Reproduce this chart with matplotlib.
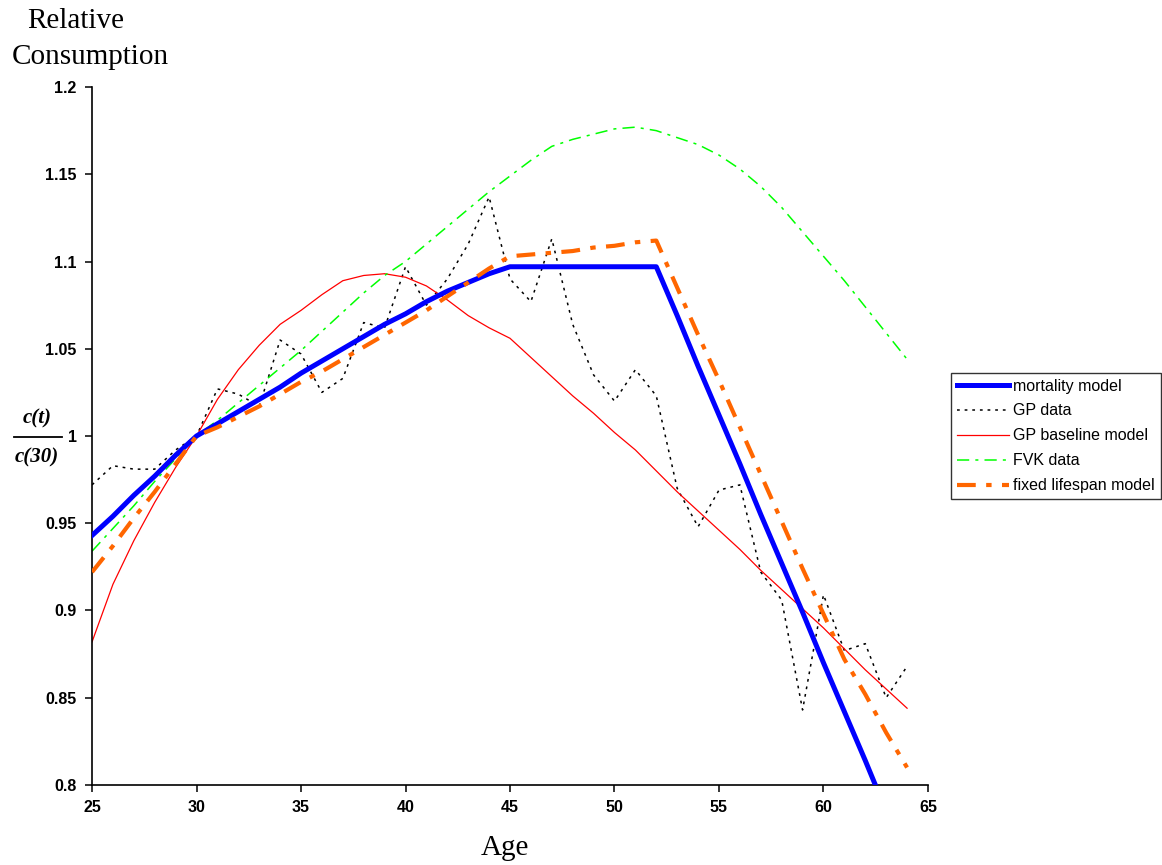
import numpy as np
import matplotlib
matplotlib.use('Agg')
from matplotlib import pyplot as plt
from matplotlib.ticker import FormatStrFormatter

# ages 25..64
ages = list(range(25, 65))

mortality_model = [0.943, 0.954, 0.966, 0.977, 0.989, 1.000, 1.007, 1.014, 1.021, 1.028,
                   1.036, 1.043, 1.050, 1.057, 1.064, 1.070, 1.077, 1.083, 1.088, 1.093,
                   1.097, 1.097, 1.097, 1.097, 1.097, 1.097, 1.097, 1.097, 1.069, 1.040,
                   1.012, 0.984, 0.955, 0.927, 0.899, 0.870, 0.842, 0.814, 0.785, 0.757]

gp_data = [0.972, 0.983, 0.981, 0.981, 0.992, 1.000, 1.027, 1.024, 1.017, 1.055,
           1.047, 1.025, 1.033, 1.065, 1.062, 1.097, 1.075, 1.090, 1.110, 1.137,
           1.090, 1.077, 1.113, 1.064, 1.035, 1.020, 1.038, 1.023, 0.970, 0.948,
           0.969, 0.972, 0.922, 0.906, 0.843, 0.909, 0.877, 0.881, 0.850, 0.868]

gp_baseline = [0.882, 0.915, 0.940, 0.962, 0.982, 1.000, 1.021, 1.038, 1.052, 1.064,
               1.072, 1.081, 1.089, 1.092, 1.093, 1.091, 1.086, 1.078, 1.069, 1.062,
               1.056, 1.045, 1.034, 1.023, 1.013, 1.002, 0.992, 0.980, 0.968, 0.957,
               0.946, 0.935, 0.923, 0.912, 0.901, 0.890, 0.878, 0.866, 0.855, 0.844]

fvk_data = [0.934, 0.947, 0.960, 0.974, 0.987, 1.000, 1.009, 1.019, 1.029, 1.039,
            1.049, 1.060, 1.071, 1.082, 1.092, 1.100, 1.110, 1.120, 1.130, 1.140,
            1.149, 1.158, 1.166, 1.170, 1.173, 1.176, 1.177, 1.175, 1.171, 1.167,
            1.161, 1.153, 1.143, 1.131, 1.117, 1.103, 1.089, 1.074, 1.059, 1.044]

fixed_lifespan = [0.922, 0.937, 0.953, 0.968, 0.984, 1.000, 1.005, 1.011, 1.017, 1.024,
                  1.031, 1.037, 1.044, 1.051, 1.058, 1.065, 1.072, 1.080, 1.088, 1.096,
                  1.103, 1.104, 1.105, 1.106, 1.108, 1.109, 1.111, 1.112, 1.085, 1.058,
                  1.032, 1.005, 0.978, 0.951, 0.924, 0.898, 0.872, 0.852, 0.830, 0.810]

x_ticks = [25, 30, 35, 40, 45, 50, 55, 60, 65]
y_ticks = [0.8, 0.85, 0.9, 0.95, 1.0, 1.05, 1.1, 1.15, 1.2]

sans = 'Liberation Sans'
serif = 'Liberation Serif'

fig = plt.figure(figsize=(11.62, 8.65), dpi=100)
ax = fig.add_axes([0.0792, 0.0925, 0.7194, 0.8069])

ax.plot(ages, mortality_model, color='#0000FF', lw=3.6, label='mortality model', zorder=3)
ax.plot(ages, gp_data, color='black', lw=1.1, ls=(0, (1.8, 3.2)), label='GP data', zorder=2)
ax.plot(ages, gp_baseline, color='#FF0000', lw=0.9, label='GP baseline model', zorder=2)
ax.plot(ages, fvk_data, color='#00FF00', lw=1.1, ls=(0, (8, 4, 2, 4)), label='FVK data', zorder=2)
ax.plot(ages, fixed_lifespan, color='#FF6600', lw=3.0, ls=(0, (4.5, 2.5, 1.3, 2.5)),
        label='fixed lifespan model', zorder=4)

ax.set_xlim(25, 65)
ax.set_ylim(0.8, 1.2)
ax.set_xticks(x_ticks)
ax.set_yticks(y_ticks)
ax.yaxis.set_major_formatter(FormatStrFormatter('%g'))
ax.spines['top'].set_visible(False)
ax.spines['right'].set_visible(False)
ax.spines['left'].set_linewidth(1.2)
ax.spines['bottom'].set_linewidth(1.2)
ax.tick_params(direction='out', length=5, width=1.1, pad=6)
for lab in ax.get_xticklabels() + ax.get_yticklabels():
    lab.set_fontfamily(sans)
    lab.set_fontweight('bold')
    lab.set_fontsize(11.5)

# axis titles
fig.text(76 / 1162, 1 - 21 / 865, 'Relative', ha='center', va='center',
         family=serif, fontsize=21)
fig.text(90 / 1162, 1 - 57 / 865, 'Consumption', ha='center', va='center',
         family=serif, fontsize=21)
fig.text(505 / 1162, 1 - 848 / 865, 'Age', ha='center', va='center', family=serif, fontsize=21)

# fraction c(t)/c(30)
fig.text(37 / 1162, 1 - 418 / 865, 'c(t)', ha='center', va='center', family=serif,
         fontsize=15, fontweight='bold', fontstyle='italic')
fig.text(37 / 1162, 1 - 457 / 865, 'c(30)', ha='center', va='center', family=serif,
         fontsize=15, fontweight='bold', fontstyle='italic')
fig.add_artist(plt.Line2D([14 / 1162, 62 / 1162], [1 - 437 / 865, 1 - 437 / 865],
                          color='black', lw=1.3, transform=fig.transFigure))

leg = ax.legend(loc='upper left', bbox_to_anchor=(951 / 1162, 1 - 373 / 865),
                bbox_transform=fig.transFigure, prop={'family': sans, 'size': 11.5},
                frameon=True, fancybox=False, handlelength=3.3, handletextpad=0.25,
                labelspacing=0.62, borderpad=0.35, borderaxespad=0)
leg.get_frame().set_edgecolor('black')
leg.get_frame().set_linewidth(1.0)

fig.savefig('out.png', dpi=100)
